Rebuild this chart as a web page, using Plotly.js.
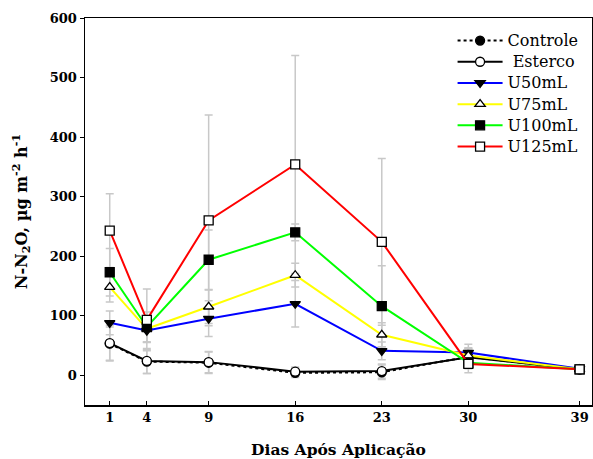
<!DOCTYPE html>
<html>
<head>
<meta charset="utf-8">
<script src="https://cdn.plot.ly/plotly-3.0.1.min.js"></script>
<style>html,body{margin:0;padding:0;background:#fff}#chart{width:593px;height:459px}</style>
</head>
<body>
<div id="chart"></div>
<script>
const days = [1, 4, 9, 16, 23, 30, 39];

const controle = [53, 23, 21, 4, 5, 31, 10];
const esterco  = [54, 24, 22, 6, 7, 30, 10];
const u50      = [88, 75, 95, 120, 41, 38, 11];
const u75      = [148, 78, 115, 168, 68, 33, 10];
const u100     = [173, 81, 194, 240, 116, 21, 10];
const u125     = [243, 93, 260, 354, 224, 19, 10];

const errControle = [28, 20, 18, 8, 12, 15, 2];
const errEsterco  = [30, 21, 18, 8, 12, 15, 2];
const errU50      = [20, 20, 30, 39, 15, 14, 2];
const errU75      = [25, 22, 28, 20, 20, 12, 2];
const errU100     = [40, 25, 50, 14, 68, 10, 2];
const errU125     = [62, 52, 177, 183, 140, 15, 2];

const seriesNames = ['Controle', ' Esterco', 'U50mL', 'U75mL', 'U100mL', 'U125mL'];
const seriesVals = [controle, esterco, u50, u75, u100, u125];
const seriesErr = [errControle, errEsterco, errU50, errU75, errU100, errU125];
const lineColors = ['#000000', '#000000', '#0000ff', '#ffff00', '#00ff00', '#ff0000'];
const lineDash = ['dot', 'solid', 'solid', 'solid', 'solid', 'solid'];
const symbols = ['circle', 'circle', 'triangle-down', 'triangle-up', 'square', 'square'];
const fills = ['#000000', '#ffffff', '#000000', '#ffffff', '#000000', '#ffffff'];

const traces = [];
for (let i = 0; i < seriesVals.length; i++) {
  traces.push({
    x: days, y: seriesVals[i], type: 'scatter', mode: 'markers',
    marker: {size: 1, color: 'rgba(0,0,0,0)'},
    error_y: {type: 'data', array: seriesErr[i], color: '#c8c8c8', thickness: 1.5, width: 4},
    showlegend: false, hoverinfo: 'skip'
  });
}
for (let i = 0; i < seriesVals.length; i++) {
  traces.push({
    x: days, y: seriesVals[i], type: 'scatter', mode: 'lines+markers',
    name: '<span style="font-size:16px">' + seriesNames[i] + '</span>',
    line: {color: lineColors[i], width: 2, dash: lineDash[i]},
    marker: {symbol: symbols[i], size: 9, color: fills[i], line: {color: '#000000', width: 1.3}}
  });
}

const serif = '"DejaVu Serif", serif';
const layout = {
  width: 593, height: 459,
  margin: {l: 85, r: 1, t: 18, b: 54},
  paper_bgcolor: '#ffffff', plot_bgcolor: '#ffffff',
  font: {family: serif, color: '#000000'},
  xaxis: {
    range: [-1, 40], tickvals: days, ticktext: days.map(String),
    ticks: 'inside', ticklen: 4, tickwidth: 1, tickcolor: '#000',
    showgrid: false, zeroline: false, showline: true, linecolor: '#000', linewidth: 1.5, mirror: true,
    tickfont: {family: serif, size: 13, weight: 'bold'},
    title: {text: '<b>Dias Após Aplicação</b>', font: {family: serif, size: 15.5}, standoff: 20}
  },
  yaxis: {
    range: [-50, 600], tickvals: [0, 100, 200, 300, 400, 500, 600],
    ticks: 'outside', ticklen: 4, tickwidth: 1, tickcolor: '#000',
    showgrid: false, zeroline: false, showline: true, linecolor: '#000', linewidth: 1.5, mirror: true,
    tickfont: {family: serif, size: 13, weight: 'bold'},
    title: {text: '<b>N-N<sub>2</sub>O, µg m<sup>-2</sup> h<sup>-1</sup></b>', font: {family: serif, size: 16}, standoff: 18}
  },
  legend: {
    x: 0.725, y: 0.982, xanchor: 'left', yanchor: 'top',
    bgcolor: 'rgba(255,255,255,0)', borderwidth: 0,
    font: {family: serif, size: 14, color: '#000'},
    itemwidth: 45, tracegroupgap: 0
  },
  showlegend: true
};

Plotly.newPlot('chart', traces, layout, {displayModeBar: false, staticPlot: true});
</script>
</body>
</html>
